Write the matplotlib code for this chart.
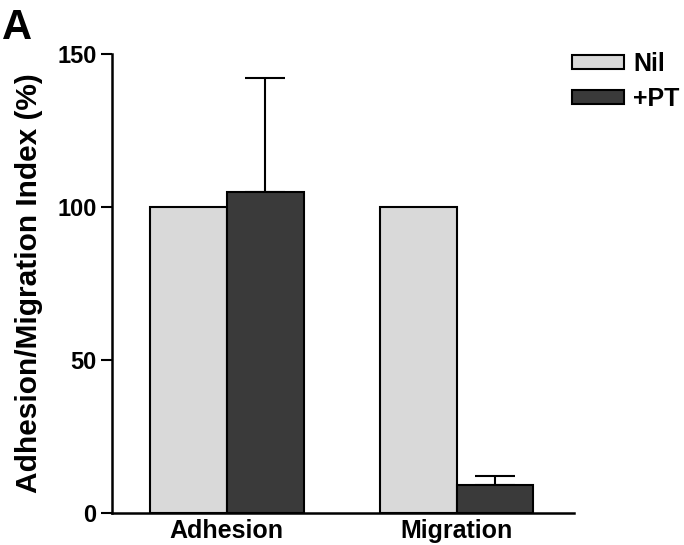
import matplotlib
matplotlib.use('Agg')
import matplotlib.pyplot as plt
import numpy as np

plt.rcParams['font.family'] = ['Liberation Sans', 'DejaVu Sans']
plt.rcParams['font.weight'] = 'bold'

categories = ['Adhesion', 'Migration']
nil_values = [100, 100]
pt_values = [105, 9]
pt_errors = [37, 3]
series_labels = ['Nil', '+PT']

fig = plt.figure(figsize=(6.84, 5.45), dpi=100)
ax = fig.add_axes([0.1637, 0.0587, 0.675, 0.8423])

x = np.arange(len(categories))
w = 0.335
ax.bar(x - w / 2, nil_values, w, color='#d9d9d9', edgecolor='black', linewidth=1.5,
       label=series_labels[0], zorder=2)
ax.bar(x + w / 2, pt_values, w, color='#3a3a3a', edgecolor='black', linewidth=1.5,
       label=series_labels[1], zorder=2)
ax.errorbar(x + w / 2, pt_values, yerr=[np.zeros(len(pt_errors)), pt_errors],
            fmt='none', ecolor='black', elinewidth=1.5, capsize=14.5, capthick=1.5, zorder=1)

ax.set_xlim(-0.5, 1.51)
ax.set_ylim(0, 150)
ax.set_yticks([0, 50, 100, 150])
ax.set_xticks(x)
ax.set_xticklabels(categories, fontsize=18, fontweight='bold')
ax.tick_params(axis='x', length=0, pad=4)
ax.tick_params(axis='y', length=8, width=1.5, labelsize=17, pad=3)
for lab in ax.get_yticklabels():
    lab.set_fontweight('bold')

ax.spines['top'].set_visible(False)
ax.spines['right'].set_visible(False)
ax.spines['left'].set_linewidth(1.8)
ax.spines['bottom'].set_linewidth(1.8)

ax.set_ylabel('Adhesion/Migration Index (%)', fontsize=21.5, fontweight='bold', labelpad=10)

fig.legend(loc='upper left', bbox_to_anchor=(0.836, 0.905), frameon=False,
           handlelength=2.1, handleheight=0.5, handletextpad=0.35, labelspacing=0.45,
           borderaxespad=0, borderpad=0,
           prop={'weight': 'bold', 'size': 18})

fig.text(0.003, 0.985, 'A', fontsize=30, fontweight='bold', va='top', ha='left')

fig.savefig('out.png', dpi=100)
